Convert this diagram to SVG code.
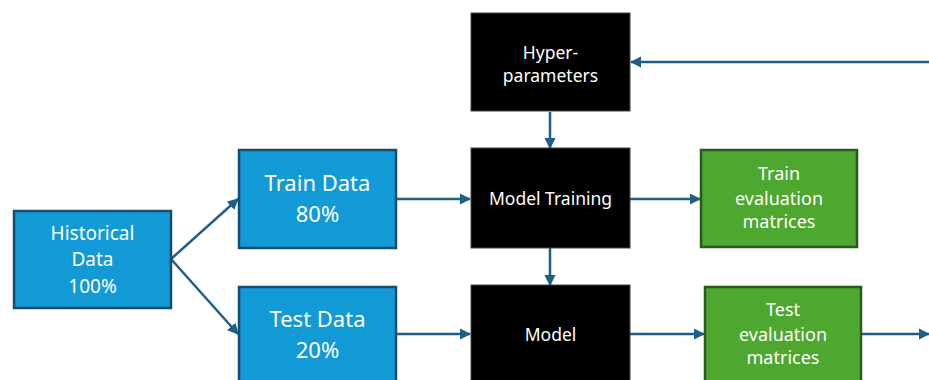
<svg xmlns="http://www.w3.org/2000/svg" width="929" height="380" viewBox="0 0 929 380">
<defs>
<marker id="ah" viewBox="0 0 10 10" refX="9" refY="5" markerWidth="4.5" markerHeight="4.5" orient="auto" markerUnits="strokeWidth">
<path d="M0,0 L10,5 L0,10 Z" fill="#1d5f86"/>
</marker>
<style>
.blue{fill:#129ad6;stroke:#174d6b;stroke-width:2.5}
.green{fill:#4ea72e;stroke:#2a5a1c;stroke-width:2.5}
.black{fill:#000;stroke:#444;stroke-width:1}
.t{font-family:"Noto Sans","Open Sans",sans-serif;fill:#fff;text-anchor:middle}
.conn{stroke:#1d5f86;stroke-width:2.5;fill:none;marker-end:url(#ah)}
</style>
</defs>
<rect width="929" height="380" fill="#fff"/>
<g id="connectors">
<path class="conn" d="M171,259 L238,199"/>
<path class="conn" d="M171,259 L238,334"/>
<path class="conn" d="M396,199 L470,199"/>
<path class="conn" d="M396,334 L470,334"/>
<path class="conn" d="M550,112 L550,148"/>
<path class="conn" d="M550,248 L550,285"/>
<path class="conn" d="M630,199 L700,199"/>
<path class="conn" d="M630,334 L704,334"/>
<path class="conn" d="M862,334 L929,334"/>
<path class="conn" d="M929,62 L631,62"/>
</g>
<g id="historical">
<rect class="blue" x="14" y="211" width="157" height="97"/>
<text class="t" font-size="19" x="92.5" y="240">Historical</text>
<text class="t" font-size="19" x="92.5" y="266">Data</text>
<text class="t" font-size="19" x="92.5" y="293">100%</text>
</g>
<g id="train-data">
<rect class="blue" x="239" y="150" width="157" height="98"/>
<text class="t" font-size="22" x="317.5" y="191">Train Data</text>
<text class="t" font-size="22" x="317.5" y="222">80%</text>
</g>
<g id="test-data">
<rect class="blue" x="239" y="287" width="157" height="98"/>
<text class="t" font-size="22" x="317.5" y="327">Test Data</text>
<text class="t" font-size="22" x="317.5" y="358">20%</text>
</g>
<g id="hyperparameters">
<rect class="black" x="471" y="13" width="159" height="98"/>
<text class="t" font-size="17.5" x="550.5" y="59">Hyper-</text>
<text class="t" font-size="17.5" x="550.5" y="82">parameters</text>
</g>
<g id="model-training">
<rect class="black" x="471" y="148" width="159" height="100"/>
<text class="t" font-size="17.5" x="550.5" y="205">Model Training</text>
</g>
<g id="model">
<rect class="black" x="471" y="285" width="159" height="100"/>
<text class="t" font-size="17.5" x="550.5" y="341">Model</text>
</g>
<g id="train-eval">
<rect class="green" x="701" y="150" width="156" height="97"/>
<text class="t" font-size="18" x="779" y="180">Train</text>
<text class="t" font-size="18" x="779" y="205">evaluation</text>
<text class="t" font-size="18" x="779" y="228">matrices</text>
</g>
<g id="test-eval">
<rect class="green" x="705" y="287" width="156" height="98"/>
<text class="t" font-size="18" x="783" y="316">Test</text>
<text class="t" font-size="18" x="783" y="341">evaluation</text>
<text class="t" font-size="18" x="783" y="364">matrices</text>
</g>
</svg>
